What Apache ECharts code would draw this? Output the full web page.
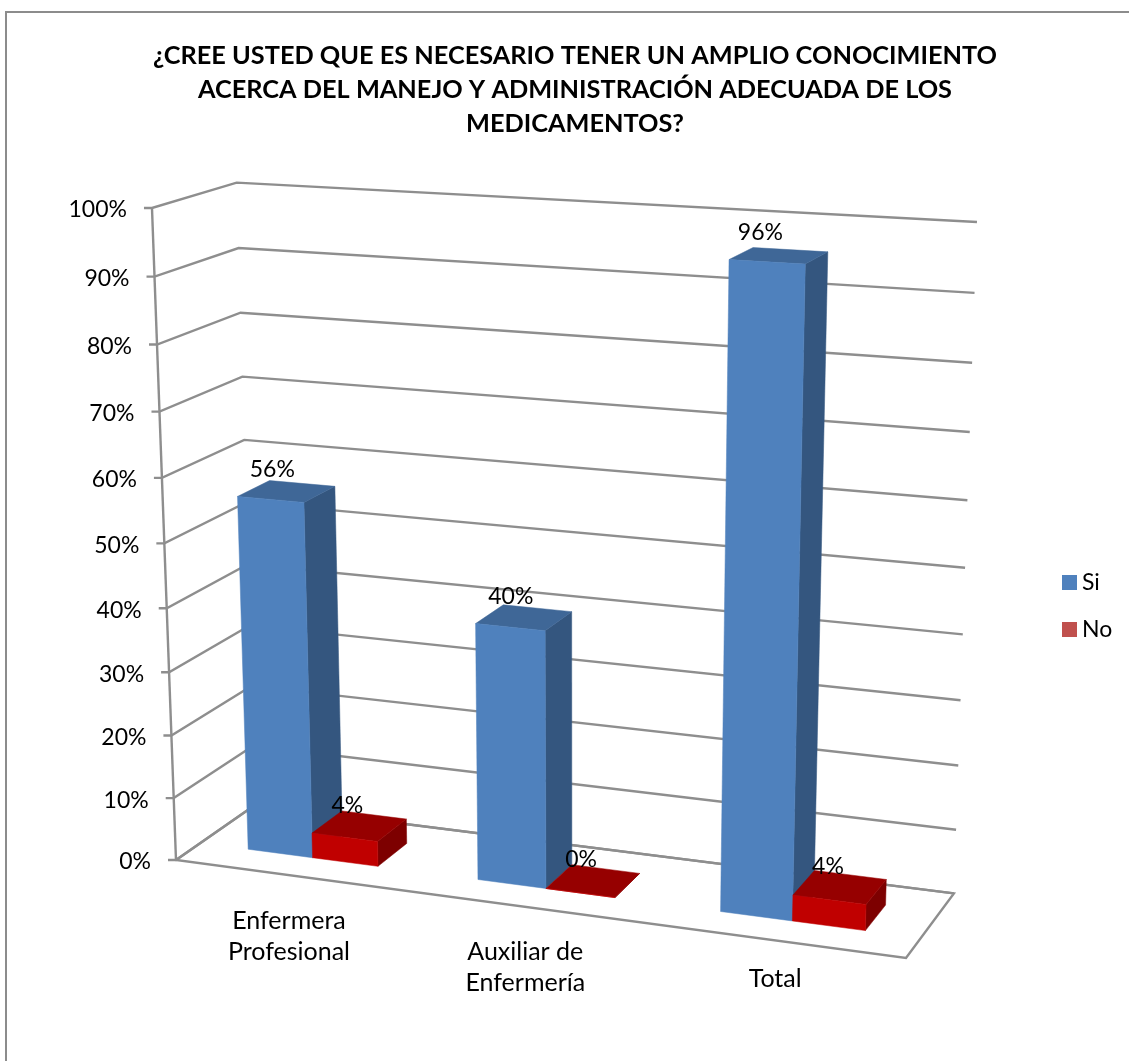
<!DOCTYPE html>
<html>
<head>
<meta charset="utf-8">
<script src="https://cdn.jsdelivr.net/npm/echarts@6/dist/echarts.min.js"></script>
<style>html,body{margin:0;padding:0;background:#fff}#c{width:1129px;height:1061px}</style>
</head>
<body>
<div id="c"></div>
<script>
const chartTitle = '¿CREE USTED QUE ES NECESARIO TENER UN AMPLIO CONOCIMIENTO\nACERCA DEL MANEJO Y ADMINISTRACIÓN ADECUADA DE LOS\nMEDICAMENTOS?';
const categories = ['Enfermera\nProfesional', 'Auxiliar de\nEnfermería', 'Total'];
const seriesSi = [56, 40, 96];
const seriesNo = [4, 0, 4];
const valueTicks = [0, 10, 20, 30, 40, 50, 60, 70, 80, 90, 100];

const FONT = 'Lato, "Open Sans", sans-serif';
const LABEL_SIZE = 23, CAT_SIZE = 25;
const GRID_COLOR = '#8e8e8e';
const TEXT_COLOR = '#000';
const catLabelDrop = [30, 29, 23];

// Perspective camera of the 3D plot, a projective map of the unit box.
const floorFL = [176, 860], floorFR = [906, 958], floorBL = [255, 805];
const perspU = -0.08, perspD = 0.05;              // foreshortening across and into the box
const verticalVanish = [579, 11800], perspT = -0.05625;

const cam = {
  g: perspU, h: perspD, T3: perspT,
  a: floorFR[0] * (1 + perspU) - floorFL[0], b: floorBL[0] * (1 + perspD) - floorFL[0], c: floorFL[0],
  d: floorFR[1] * (1 + perspU) - floorFL[1], e: floorBL[1] * (1 + perspD) - floorFL[1], f: floorFL[1],
  T1: perspT * verticalVanish[0], T2: perspT * verticalVanish[1]
};

// u across categories, dp into depth, t up the value axis (all 0..1)
function project(u, dp, t) {
  const w = cam.g * u + cam.h * dp + cam.T3 * t + 1;
  return [(cam.a * u + cam.b * dp + cam.T1 * t + cam.c) / w,
          (cam.d * u + cam.e * dp + cam.T2 * t + cam.f) / w];
}
// library scale -> normalized plot coordinates
function norm(api, params, cat, val) {
  const p = api.coord([cat, val]), s = params.coordSys;
  return [(p[0] - s.x) / s.width, 1 - (p[1] - s.y) / s.height];
}
const GAP_WIDTH = 1.5, DEPTH_FRONT = 0.3, DEPTH_BACK = 0.7;

function poly(points, fill) {
  return { type: 'polygon', shape: { points }, style: { fill, stroke: fill, lineWidth: 0.5 } };
}
function line(points) {
  return { type: 'polyline', shape: { points }, style: { fill: 'none', stroke: GRID_COLOR, lineWidth: 2.4 } };
}

function barRenderer(slot, colors) {
  return function (params, api) {
    const cat = api.value(0), val = api.value(1);
    const [uc, t] = norm(api, params, cat, val);
    const bw = api.size([1, 0])[0] / params.coordSys.width / (2 + GAP_WIDTH);
    const u0 = uc + (slot - 1) * bw, u1 = u0 + bw;
    const fl = project(u0, DEPTH_FRONT, 0), fr = project(u1, DEPTH_FRONT, 0);
    const br = project(u1, DEPTH_BACK, 0);
    const tfl = project(u0, DEPTH_FRONT, t), tfr = project(u1, DEPTH_FRONT, t);
    const tbr = project(u1, DEPTH_BACK, t), tbl = project(u0, DEPTH_BACK, t);
    const cx = (tfl[0] + tfr[0] + tbr[0] + tbl[0]) / 4, cy = (tfl[1] + tfr[1] + tbr[1] + tbl[1]) / 4;
    return {
      type: 'group',
      children: [
        poly([fr, br, tbr, tfr], colors.side),
        poly([tfl, tfr, tbr, tbl], colors.top),
        poly([fl, fr, tfr, tfl], colors.front),
        { type: 'text', z2: 50, style: { x: cx - 12 - 7 * t * t, y: cy - 21 - 2 * t * t, text: val + '%', fill: TEXT_COLOR,
            font: LABEL_SIZE + 'px ' + FONT, align: 'center', verticalAlign: 'middle' } }
      ]
    };
  };
}

function floorRenderer() {
  const a = project(0, 0, 0), b = project(1, 0, 0), c = project(1, 1, 0), d = project(0, 1, 0);
  return { type: 'group', children: [line([d, a, b, c, d]), line([a, project(0, 0, 1)])] };
}
function wallRenderer(params, api) {
  const t = norm(api, params, 0, api.value(1))[1];
  const a = project(0, 0, t), b = project(0, 1, t), c = project(1, 1, t);
  return {
    type: 'group',
    children: [
      line([[a[0] - 8, a[1]], a, b, c]),
      { type: 'text', style: { x: a[0] - 25, y: a[1] + 2, text: api.value(1) + '%', fill: TEXT_COLOR,
          font: LABEL_SIZE + 'px ' + FONT, align: 'right', verticalAlign: 'middle' } }
    ]
  };
}
function catLabelRenderer(params, api) {
  const i = api.value(0), u = norm(api, params, i, 0)[0];
  const p = project(u, 0, 0);
  return { type: 'text', style: { x: p[0] - 0.5, y: p[1] + catLabelDrop[i], text: categories[i], fill: TEXT_COLOR,
      font: CAT_SIZE + 'px ' + FONT, lineHeight: 31, align: 'center', verticalAlign: 'top' } };
}

const chart = echarts.init(document.getElementById('c'));
chart.setOption({
  animation: false,
  backgroundColor: '#fff',
  title: { text: chartTitle, left: 570, top: 34, textAlign: 'center',
    textStyle: { fontFamily: FONT, fontSize: 25.3, fontWeight: 'bold', color: TEXT_COLOR, lineHeight: 34 } },
  legend: { data: [{ name: 'Si', icon: 'rect', itemStyle: { color: '#4f81bd' } }, { name: 'No', icon: 'rect', itemStyle: { color: '#c0504d' } }],
    orient: 'vertical', left: 1057, top: 566, itemWidth: 15, itemHeight: 15, itemGap: 24,
    textStyle: { fontFamily: FONT, fontSize: LABEL_SIZE, color: TEXT_COLOR } },
  grid: { left: 100, right: 100, top: 100, bottom: 100 },
  xAxis: { type: 'category', data: categories, show: false },
  yAxis: { type: 'value', min: 0, max: 100, interval: 10, show: false, splitLine: { show: false } },
  graphic: [{ type: 'polyline', silent: true, z: -1, shape: { points: [[6, 1061], [6, 12], [1129, 12]] },
    style: { fill: 'none', stroke: '#8c8c8c', lineWidth: 2 } }],
  series: [
    { type: 'custom', name: 'floor', silent: true, data: [[0, 0]], renderItem: floorRenderer, z: 1 },
    { type: 'custom', name: 'walls', silent: true, data: valueTicks.map(v => [0, v]), renderItem: wallRenderer, z: 1 },
    { type: 'custom', name: 'categories', silent: true, data: categories.map((c, i) => [i, 0]), renderItem: catLabelRenderer, z: 1 },
    { type: 'custom', name: 'Si', z: 2, data: seriesSi.map((v, i) => [i, v]), itemStyle: { color: '#4f81bd' },
      renderItem: barRenderer(0, { front: '#4f81bd', top: '#3f6797', side: '#34567f' }) },
    { type: 'custom', name: 'No', z: 3, data: seriesNo.map((v, i) => [i, v]), itemStyle: { color: '#c0504d' },
      renderItem: barRenderer(1, { front: '#c00000', top: '#960000', side: '#7d0000' }) }
  ]
});
</script>
</body>
</html>
